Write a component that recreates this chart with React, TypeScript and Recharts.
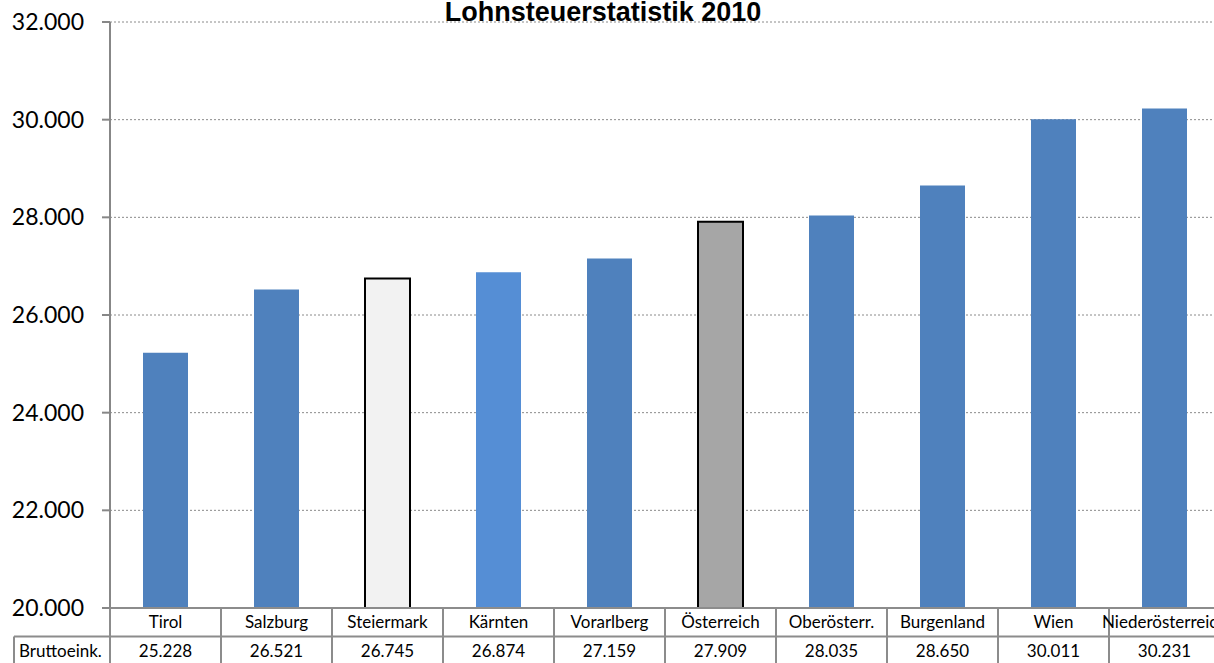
import React from 'react'
import { BarChart, Bar, XAxis, YAxis, CartesianGrid, Cell } from 'recharts'

const regions = ['Tirol', 'Salzburg', 'Steiermark', 'Kärnten', 'Vorarlberg', 'Österreich', 'Oberösterr.', 'Burgenland', 'Wien', 'Niederösterreich']
const income = [25228, 26521, 26745, 26874, 27159, 27909, 28035, 28650, 30011, 30231]
const yTicks = [20000, 22000, 24000, 26000, 28000, 30000, 32000]
const rowLabel = 'Bruttoeink.'

const data = regions.map((name, i) => ({ name, income: income[i] }))

const BLUE = '#4F81BD'
const barFill = (name: string) => {
  if (name === 'Steiermark') return '#F2F2F2'
  if (name === 'Österreich') return '#A6A6A6'
  if (name === 'Kärnten') return '#558ED5'
  return BLUE
}
const outlined = (name: string) => name === 'Steiermark' || name === 'Österreich'

const fmt = (v: number) => String(v).replace(/\B(?=(\d{3})+(?!\d))/g, '.')

const FONT = 'Lato, "Open Sans", sans-serif'
const LINE = '#8C8C8C'
const CAT_W = 111

function TableTick(props: any) {
  const { x, y, payload, index } = props
  const top = y
  const mid = top + 28.5
  const bot = top + 60
  const left = x - CAT_W / 2
  const right = x + CAT_W / 2
  return (
    <g>
      <line x1={left} y1={top} x2={right} y2={top} stroke={LINE} strokeWidth={2} />
      <line x1={left} y1={mid} x2={right} y2={mid} stroke={LINE} strokeWidth={2} />
      <line x1={right} y1={top} x2={right} y2={bot} stroke={LINE} strokeWidth={2} />
      {index === 0 && (
        <g>
          <line x1={left} y1={top} x2={left} y2={bot} stroke={LINE} strokeWidth={2} />
          <line x1={14} y1={mid} x2={left} y2={mid} stroke={LINE} strokeWidth={2} />
          <line x1={14} y1={mid} x2={14} y2={bot} stroke={LINE} strokeWidth={2} />
          <text x={19} y={top + 49} fontSize={17} fontFamily={FONT} fill="#000">{rowLabel}</text>
        </g>
      )}
      <text x={x} y={top + 20} textAnchor="middle" fontSize={17} fontFamily={FONT} fill="#000">{payload.value}</text>
      <text x={x} y={top + 49} textAnchor="middle" fontSize={17} fontFamily={FONT} fill="#000">{fmt(income[index])}</text>
    </g>
  )
}

export default function App() {
  return (
    <div style={{ position: 'fixed', left: 0, top: 0, width: 1214, height: 663, overflow: 'hidden', background: '#fff' }}>
      <BarChart width={1230} height={663} data={data} margin={{ top: 22, right: 10, left: 0, bottom: 0 }}>
        <CartesianGrid vertical={false} stroke="#8A8A8A" strokeDasharray="2 2" />
        <YAxis
          width={110}
          domain={[20000, 32000]}
          ticks={yTicks}
          interval={0}
          tickFormatter={fmt}
          axisLine={{ stroke: '#878787', strokeWidth: 2 }}
          tickLine={{ stroke: '#878787', strokeWidth: 2 }}
          tickSize={8}
          tickMargin={18}
          tick={{ fill: '#000', fontSize: 23, fontFamily: FONT }}
        />
        <XAxis
          dataKey="name"
          height={55}
          interval={0}
          axisLine={false}
          tickLine={false}
          tickSize={0}
          tickMargin={0}
          tick={<TableTick />}
        />
        <Bar dataKey="income" barSize={45} isAnimationActive={false}>
          {data.map((d) => (
            <Cell
              key={d.name}
              fill={barFill(d.name)}
              stroke={outlined(d.name) ? '#000' : 'none'}
              strokeWidth={outlined(d.name) ? 2 : 0}
            />
          ))}
        </Bar>
      </BarChart>
      <div
        style={{
          position: 'absolute',
          left: 0,
          top: -1,
          width: 1206,
          textAlign: 'center',
          fontFamily: '"Liberation Sans", Arial, sans-serif',
          fontWeight: 'bold',
          fontSize: 27,
          lineHeight: '27px',
          color: '#000',
        }}
      >
        Lohnsteuerstatistik 2010
      </div>
    </div>
  )
}
